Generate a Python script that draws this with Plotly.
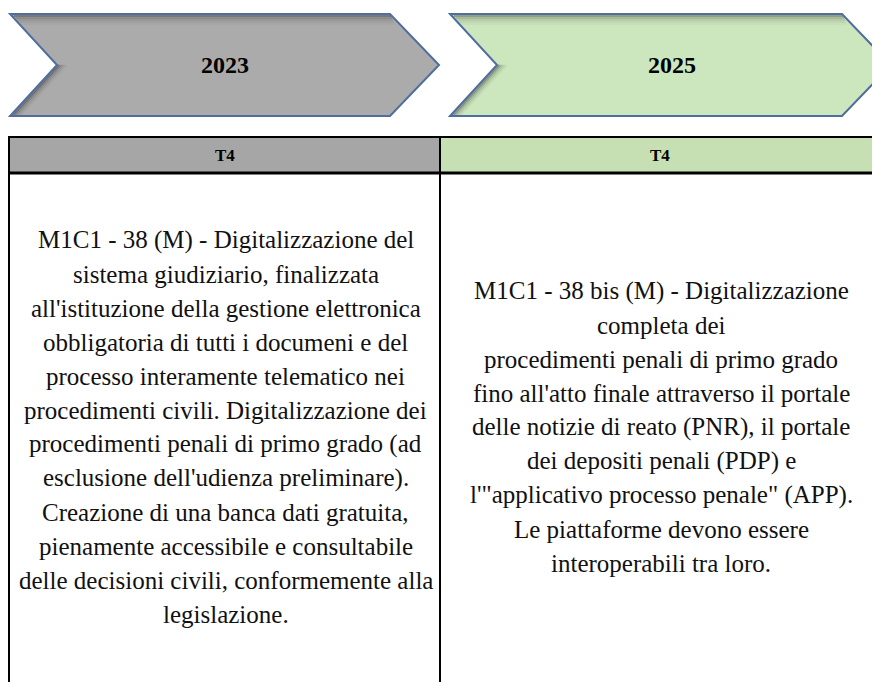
import plotly.graph_objects as go

# ---- data ----
years = ["2023", "2025"]
quarters = ["T4", "T4"]
milestones_2023 = [
    "M1C1 - 38 (M) - Digitalizzazione del",
    "sistema giudiziario, finalizzata",
    "all'istituzione della gestione elettronica",
    "obbligatoria di tutti i documeni e del",
    "processo interamente telematico nei",
    "procedimenti civili. Digitalizzazione dei",
    "procedimenti penali di primo grado (ad",
    "esclusione dell'udienza preliminare).",
    "Creazione di una banca dati gratuita,",
    "pienamente accessibile e consultabile",
    "delle decisioni civili, conformemente alla",
    "legislazione.",
]
milestones_2025 = [
    "M1C1 - 38 bis (M) - Digitalizzazione",
    "completa dei",
    "procedimenti penali di primo grado",
    "fino all'atto finale attraverso il portale",
    "delle notizie di reato (PNR), il portale",
    "dei depositi penali (PDP) e",
    "l'\"applicativo processo penale\" (APP).",
    "Le piattaforme devono essere",
    "interoperabili tra loro.",
]
milestones = [milestones_2023, milestones_2025]

# ---- styles (coordinates are page pixels; page body has an 8px margin) ----
PAGE_W, PAGE_H = 880, 682
OFF = 8
arrow_fill = ["#ABABAB", "#CCE6BD"]
header_fill = ["#A6A6A6", "#C6E0B4"]
arrow_border = "#4F6D9E"
serif = "Liberation Serif"
col_edges = [9, 440, 880]
arrow_left = [10, 450]
arrow_right = [390, 842]
arrow_top, arrow_bot = 14, 116
notch = 47
tip = 49
year_x = [225, 672]
hdr_top, hdr_bot = 137, 173
body_center = 427
line_gap = 34
body_size = 25

fig = go.Figure()
fig.add_trace(go.Scatter(x=[OFF, PAGE_W], y=[OFF, PAGE_H], mode="markers",
                         marker=dict(opacity=0), hoverinfo="skip", showlegend=False))

shapes = []
annotations = []
mid_y = (arrow_top + arrow_bot) / 2

for i, yr in enumerate(years):
    xl, xr = arrow_left[i], arrow_right[i]
    path = (f"M {xl},{arrow_top} L {xr},{arrow_top} L {xr + tip},{mid_y} "
            f"L {xr},{arrow_bot} L {xl},{arrow_bot} L {xl + notch},{mid_y} Z")
    shapes.append(dict(type="path", path=path, xref="x", yref="y",
                       fillcolor=arrow_fill[i], line=dict(width=0), layer="below"))
    # inner shading along top edge and notch
    for k, op in enumerate([0.35, 0.22, 0.13, 0.07, 0.03]):
        off = 2 + k * 2
        shapes.append(dict(type="path", xref="x", yref="y",
                           path=f"M {xl + off * 0.9 + 2},{arrow_top + off} L {xr + off * 0.5},{arrow_top + off}",
                           line=dict(color=f"rgba(30,30,30,{op})", width=2)))
        shapes.append(dict(type="path", xref="x", yref="y",
                           path=f"M {xl + notch + off},{mid_y} L {xl + off + 1},{arrow_bot - 1}",
                           line=dict(color=f"rgba(30,30,30,{op})", width=2)))
    shapes.append(dict(type="path", path=path, xref="x", yref="y",
                       fillcolor="rgba(0,0,0,0)", line=dict(color=arrow_border, width=2)))
    annotations.append(dict(x=year_x[i], y=mid_y, xref="x", yref="y", text=f"<b>{yr}</b>",
                            showarrow=False, font=dict(family=serif, size=24, color="#000")))

    # header cell
    x0, x1 = col_edges[i], col_edges[i + 1]
    shapes.append(dict(type="rect", xref="x", yref="y", x0=x0, x1=x1, y0=hdr_top, y1=hdr_bot,
                       fillcolor=header_fill[i], line=dict(width=0), layer="below"))
    annotations.append(dict(x=(x0 + x1) / 2, y=(hdr_top + hdr_bot) / 2, xref="x", yref="y",
                            text=f"<b>{quarters[i]}</b>", showarrow=False,
                            font=dict(family=serif, size=17, color="#000")))

    # body text lines
    lines = milestones[i]
    n = len(lines)
    for j, ln in enumerate(lines):
        y = body_center + (j - (n - 1) / 2) * line_gap
        annotations.append(dict(x=(x0 + x1) / 2 + 1, y=y, xref="x", yref="y", text=ln,
                                showarrow=False, font=dict(family=serif, size=body_size, color="#111")))

# table borders
shapes.append(dict(type="line", xref="x", yref="y", x0=col_edges[0], x1=PAGE_W + 10, y0=hdr_top, y1=hdr_top,
                   line=dict(color="#000", width=2)))
shapes.append(dict(type="line", xref="x", yref="y", x0=col_edges[0], x1=PAGE_W + 10, y0=hdr_bot, y1=hdr_bot,
                   line=dict(color="#000", width=3)))
for xe in col_edges[:2]:
    shapes.append(dict(type="line", xref="x", yref="y", x0=xe, x1=xe, y0=hdr_top - 1, y1=PAGE_H + 10,
                       line=dict(color="#000", width=2)))

fig.update_layout(
    width=PAGE_W - OFF, height=PAGE_H - OFF, margin=dict(l=0, r=0, t=0, b=0),
    paper_bgcolor="white", plot_bgcolor="white",
    xaxis=dict(range=[OFF, PAGE_W], visible=False, fixedrange=True),
    yaxis=dict(range=[PAGE_H, OFF], visible=False, fixedrange=True),
    shapes=shapes, annotations=annotations, showlegend=False,
)
fig.write_html("out.html")
